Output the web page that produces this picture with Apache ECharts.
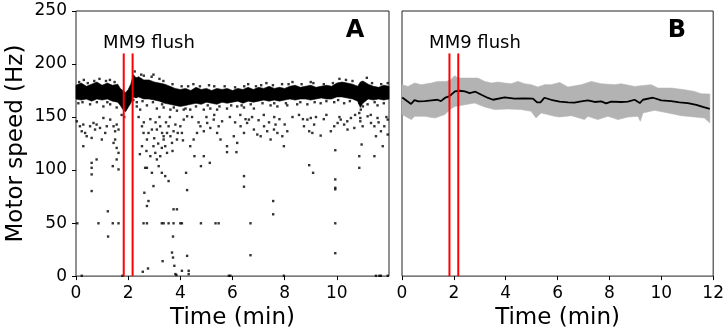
<!DOCTYPE html>
<html>
<head>
<meta charset="utf-8">
<script src="https://cdn.jsdelivr.net/npm/echarts@6/dist/echarts.min.js"></script>
<style>
html,body{margin:0;padding:0;background:#fff;}
#chart{width:727px;height:335px;}
</style>
</head>
<body>
<div id="chart"></div>
<script>
// ---------------- DATA ----------------
const xTicks = [0, 2, 4, 6, 8, 10, 12];
const yTicks = [0, 50, 100, 150, 200, 250];
const flushTimes = [1.83, 2.17];
const flushLineTop = 210;
const flushLabel = 'MM9 flush';
const panelLabels = ['A', 'B'];
const xTitle = 'Time (min)';
const yTitle = 'Motor speed (Hz)';

// Panel A: dense band of motor-speed samples (upper / lower envelope)
const bandTimeA  = [0,0.2,0.4,0.6,0.8,1.0,1.2,1.4,1.6,1.7,1.8,1.9,2.0,2.1,2.2,2.3,2.4,2.6,2.8,3.0,3.2,3.4,3.6,3.8,4.0,4.2,4.4,4.6,4.8,5.0,5.2,5.4,5.6,5.8,6.0,6.2,6.4,6.6,6.8,7.0,7.2,7.4,7.6,7.8,8.0,8.2,8.4,8.6,8.8,9.0,9.2,9.4,9.6,9.8,10.0,10.2,10.4,10.6,10.8,10.9,11.0,11.2,11.4,11.6,11.8,12.0];
const bandUpperA = [180,182,179,181,183,180,182,180,181,177,175,173,176,181,190,187,188,185,185,183,182,181,179,177,176,177,175,178,176,177,175,177,176,177,175,177,176,178,176,178,177,179,177,178,177,179,180,178,179,180,178,179,180,179,182,183,182,181,179,183,184,181,179,178,180,179];
const bandLowerA = [167,166,167,165,167,166,167,165,164,161,157,155,159,163,169,168,169,167,167,166,165,163,162,161,160,161,162,163,162,164,163,162,164,163,164,165,163,165,164,165,166,165,166,165,166,167,166,167,167,166,167,168,167,167,169,169,168,167,165,159,163,167,166,167,166,167];

// Panel A: individual samples away from the band
const scatterA = [
[0.03,146],[0.15,141.3],[0.28,142.9],[0.22,136.6],[0.35,135],[0.41,131.9],[0.54,141.3],[0.67,144.4],[0.73,138.2],[0.79,142.9],[0.92,139.7],[1.05,149.1],[1.12,135],[1.18,141.3],[0.60,130.3],[0.99,128.8],[1.31,147.6],[1.44,141.3],[1.50,136.6],[1.56,142.9],[1.63,138.2],[1.50,128.8],[1.44,125.6],[1.56,120.9],[1.63,116.2],[1.56,110],[1.41,103.7],[1.63,100.6],[0.28,122.5],[0.60,106.8],[0.60,102.1],[0.79,110],[0.60,95.9],[0.60,80.2],[0.86,49.8],[0.05,49.8],[1.22,61.1],[1.23,37.3],[1.41,49.8],[1.63,49.8],
[2.33,160],[2.46,157],[2.53,141.3],[2.59,135],[2.53,122.5],[2.72,128.8],[2.78,135],[2.91,138.2],[2.97,122.5],[3.04,116.2],[2.85,113.1],[3.10,110],[3.17,103.7],[2.91,97.4],[3.23,113.1],[3.29,120.9],[3.36,128.8],[3.42,122.5],[3.49,135],[3.55,141.3],[3.62,131.9],[3.68,125.6],[3.74,136.6],[3.81,142.9],[3.87,128.8],[4.0,141.3],[4.06,135],[4.13,147.6],[4.26,150.7],[3.10,138.2],[3.23,141.3],[3.36,131.9],[3.49,116.2],[3.29,97.4],[3.42,94.3],[3.55,89.6],[2.72,102.1],[2.65,102.1],[2.72,66.1],[2.78,70.8],[2.97,84.9],[2.62,78.6],[2.59,49.8],[2.72,49.8],[3.29,49.8],[3.36,49.8],[3.55,49.8],[3.74,49.8],[3.72,37.3],[3.74,63],[3.68,22.2],[3.72,17.5],[3.77,9.7],[3.81,1.9],[4.06,5],[4.32,1.9],[4.32,5],[3.32,14.1],[2.56,4.1],[2.76,7.2],[4.22,97.4],[4.26,81.1],[4.0,49.8],[4.06,49.8],[4.26,19.1],[3.87,63],[3.85,1],
[2.4,150],[2.6,145],[2.85,148],[3.0,130],[3.15,125],[3.3,135],[3.45,145],[3.6,150],[3.7,118],[3.9,135],[4.1,128],[2.45,115],[2.7,118],[3.05,145],[3.2,150],
[4.38,122.5],[4.51,128.8],[4.64,135],[4.77,141.3],[4.90,136.6],[5.03,144.4],[5.15,139.7],[5.28,147.6],[5.41,135],[5.47,141.3],[5.54,128.8],[5.79,122.5],[6.05,131.9],[6.18,125.6],[6.31,141.3],[6.44,135],[6.56,144.4],[6.63,147.6],[6.82,138.2],[6.95,133.5],[7.08,131.9],[7.21,141.3],[7.33,136.6],[7.46,128.8],[7.59,138.2],[7.65,142.9],[7.72,135],[7.91,131.9],[7.97,122.5],[8.10,136.6],
[4.79,103.7],[5.13,106.8],[4.90,113.1],[4.54,113.1],[5.47,49.8],[5.35,49.8],[4.79,49.8],[5.86,0.3],[6.44,94.3],[6.44,84.3],[6.69,49.8],[6.69,19.7],[7.56,70.8],[7.56,58.3],[6.15,116.9],[5.79,116.9],[7.97,0.3],
[8.74,141.3],[8.87,147.6],[8.94,136.6],[9.0,149.1],[9.06,135],[9.13,142.9],[9.38,132.5],[9.77,136.6],[9.90,141.3],[10.03,144.4],[10.15,147.6],[10.28,142.9],[10.41,138.2],[10.54,149.1],[10.67,139.7],
[8.94,104.6],[9.09,97.4],[9.94,118.7],[9.94,91.2],[9.94,83.3],[9.94,81.8],[9.94,49.8],[9.94,21.6],
[10.86,153.8],[10.90,149.1],[10.92,157],[10.86,163.2],[10.90,146],[10.99,141.3],[10.95,124.1],[10.86,102.1],[10.86,113.1],[11.44,113.1],[11.18,150.7],[11.31,144.4],[11.44,141.3],[11.56,149.1],[11.69,136.6],[11.82,141.3],[11.95,133.5],[11.76,122.5],[11.50,131.9],[11.95,147.6],
[11.50,0.3],[11.63,0.3],[11.69,0.3],[11.95,0.3],[0.22,0.3],[1.78,0.3],[5.92,0.3],
[4.45,150],[4.7,145],[5.0,150],[5.3,152],[5.6,146],[5.9,150],[6.1,145],[6.3,152],[6.5,148],[6.75,150],[7.0,147],[7.2,152],[7.4,145],[7.6,150],[7.8,148],[8.0,143],[8.3,150],[8.55,152],[8.7,148],[9.2,150],[9.5,148],[9.6,152],[10.1,150],[10.4,146],[10.7,152],[11.3,152],[11.6,145],[11.9,150]
];

// Panel A: samples at the fuzzy edges of the band
const edgeA = [
[0.09,163],[0.54,162],[1.05,160],[1.31,162],[1.56,159],[1.75,152],[1.85,150],[2.33,164],[2.72,161],[3.10,158],[3.36,159],[3.62,157],[3.87,156],[4.13,157],[4.38,157],[4.90,157],[5.15,158],[5.41,157],[5.79,158],[6.18,160],[6.44,159],[6.82,158],[7.46,161],[7.72,160],[8.10,161],[8.48,162],[8.87,162],[9.38,163],[9.90,164],[10.28,163],[11.18,162],[11.56,161],
[0.3,185],[0.9,186],[1.3,185],[2.6,189],[3.2,186],[4.5,181],[5.1,180],[6.6,181],[7.3,182],[8.3,183],[9.0,183],[10.1,186],[11.15,187],[2.97,190],[2.25,193],
[0.12,183],[0.45,182],[0.7,184],[1.15,184],[1.48,183],[2.5,190],[2.9,188],[3.35,184],[3.7,181],[4.05,179],[4.3,179],[4.75,179],[5.3,179],[5.7,179],[6.1,178],[6.45,179],[6.9,179],[7.1,180],[7.55,180],[7.9,181],[8.15,181],[8.65,181],[9.1,182],[9.5,181],[9.85,182],[10.35,185],[10.6,184],[11.35,182],[11.7,181],[11.95,182],
[0.25,164],[0.8,164],[1.2,164],[2.2,166],[2.55,165],[2.95,164],[3.3,162],[3.75,159],[4.2,158],[4.6,160],[5.05,161],[5.5,160],[5.95,161],[6.35,161],[6.7,162],[7.15,163],[7.6,163],[8.05,163],[8.6,164],[9.15,164],[9.6,165],[10.05,166],[10.5,165],[11.0,160],[11.45,164],[11.8,163]
];

// Panel B: mean motor speed with spread band
const meanB = [[0.01,168.5],[0.35,162.3],[0.48,166],[0.63,164.8],[0.88,165],[1.14,165.7],[1.37,166.3],[1.50,165],[1.65,168],[1.81,169.5],[1.91,171.3],[2.04,174.2],[2.23,174.8],[2.42,174.2],[2.61,172.6],[2.83,173.9],[3.06,171],[3.32,168],[3.51,166.3],[3.96,168.5],[4.34,167.3],[4.73,167.6],[5.05,167.3],[5.21,163.8],[5.34,163.8],[5.49,168.2],[5.75,166.3],[6.08,164.5],[6.40,163.8],[6.65,163.5],[6.91,164.8],[7.17,165.7],[7.43,164.2],[7.68,164.8],[7.87,162.9],[8.07,164.5],[8.45,164.2],[8.71,164.5],[8.97,166.3],[9.17,163.2],[9.29,166.3],[9.68,168.2],[10.0,165.7],[10.38,165],[10.70,163.8],[11.02,163.2],[11.35,161.4],[11.6,159.5],[11.87,157.6]];
const upperB = [[0,180.5],[0.23,178.9],[0.49,182],[0.74,180.5],[1.13,182],[1.38,183.6],[1.71,183.6],[1.87,185],[2.03,189],[2.16,186.7],[2.42,186.7],[2.93,186.7],[3.19,183.6],[3.45,182],[3.7,183],[3.96,182],[4.21,181.4],[4.47,183.6],[4.73,181.4],[4.98,180.5],[5.24,178.3],[5.5,180.5],[5.75,180.5],[6.08,182.6],[6.40,178.3],[6.91,180.5],[7.30,183.6],[7.68,181.4],[8.2,180.5],[8.45,181.4],[8.97,178.9],[9.61,180.5],[9.87,177.3],[10.38,177.3],[10.89,175.8],[11.28,174.2],[11.53,172],[11.87,171.7]];
const lowerB = [[0,152.3],[0.36,147.6],[0.49,150.7],[0.88,150.7],[1.27,149.1],[1.65,152.3],[1.87,157.6],[2.04,160],[2.42,161.7],[2.8,163.2],[3.19,159.5],[3.57,157],[4.08,157.6],[4.6,157],[4.98,155.4],[5.17,149.1],[5.36,153.9],[5.62,152.3],[5.89,150.7],[6.08,150.1],[6.53,151.3],[7.04,147.6],[7.17,150.7],[7.55,147.6],[7.94,150.7],[8.33,147.6],[8.71,150],[9.10,150.7],[9.19,146],[9.29,153.9],[9.74,156.3],[10.26,153.9],[10.77,151.3],[11.28,150.1],[11.66,149.1],[11.87,144.5]];

// ---------------- CHART ----------------
const FONT = 'DejaVu Sans';
const chart = echarts.init(document.getElementById('chart'), null, {renderer: 'canvas'});

function bandSeries(idx, upper, lower, color) {
  return {
    type: 'custom', xAxisIndex: idx, yAxisIndex: idx, silent: true, z: 1,
    data: [[upper[0][0], upper[0][1]]],
    renderItem: function (params, api) {
      const pts = upper.map(p => api.coord(p))
        .concat(lower.slice().reverse().map(p => api.coord(p)));
      return {type: 'polygon', shape: {points: pts}, style: {fill: color, stroke: color, lineWidth: 0.6}};
    }
  };
}
function flushSeries(idx) {
  return flushTimes.map(t => ({
    type: 'line', xAxisIndex: idx, yAxisIndex: idx, silent: true, z: 10,
    data: [[t, 0], [t, flushLineTop]], symbol: 'none',
    lineStyle: {color: '#ff0000', width: 2}
  }));
}
function xAxis(idx, showMax) {
  return {
    gridIndex: idx, type: 'value', min: xTicks[0], max: xTicks[xTicks.length - 1], interval: xTicks[1] - xTicks[0],
    axisLine: {show: false}, splitLine: {show: false},
    axisTick: {show: true, length: 4, lineStyle: {color: '#000', width: 1}},
    axisLabel: {showMaxLabel: showMax, fontSize: 17, color: '#000', margin: 9, fontFamily: FONT},
    name: xTitle, nameLocation: 'middle', nameGap: 30,
    nameTextStyle: {fontSize: 23, color: '#000', fontFamily: FONT}
  };
}

const bandPtsUpperA = bandTimeA.map((t, i) => [t, bandUpperA[i]]);
const bandPtsLowerA = bandTimeA.map((t, i) => [t, bandLowerA[i]]);

const option = {
  animation: false,
  backgroundColor: '#fff',
  grid: [
    {left: 76, top: 11, width: 313, height: 266, show: true, borderColor: '#222', borderWidth: 1, backgroundColor: 'transparent'},
    {left: 402, top: 11, width: 312, height: 266, show: true, borderColor: '#222', borderWidth: 1, backgroundColor: 'transparent'}
  ],
  xAxis: [xAxis(0, false), xAxis(1, true)],
  yAxis: [
    {gridIndex: 0, type: 'value', min: yTicks[0], max: yTicks[yTicks.length - 1], interval: yTicks[1] - yTicks[0],
     axisLine: {show: false}, splitLine: {show: false},
     axisTick: {show: true, length: 4, lineStyle: {color: '#000', width: 1}},
     axisLabel: {fontSize: 17, color: '#000', margin: 9, fontFamily: FONT},
     name: yTitle, nameLocation: 'middle', nameGap: 48, nameRotate: 90,
     nameTextStyle: {fontSize: 23, color: '#000', fontFamily: FONT}},
    {gridIndex: 1, type: 'value', min: yTicks[0], max: yTicks[yTicks.length - 1], interval: yTicks[1] - yTicks[0],
     axisLine: {show: false}, splitLine: {show: false}, axisTick: {show: false}, axisLabel: {show: false}}
  ],
  graphic: [
    {type: 'text', x: 149, y: 43, style: {text: flushLabel, font: '18px "DejaVu Sans"', fill: '#000', align: 'center', verticalAlign: 'middle'}},
    {type: 'text', x: 475, y: 43, style: {text: flushLabel, font: '18px "DejaVu Sans"', fill: '#000', align: 'center', verticalAlign: 'middle'}},
    {type: 'text', x: 355, y: 31, style: {text: panelLabels[0], font: 'bold 24px "DejaVu Sans"', fill: '#000', align: 'center', verticalAlign: 'middle'}},
    {type: 'text', x: 677, y: 31, style: {text: panelLabels[1], font: 'bold 24px "DejaVu Sans"', fill: '#000', align: 'center', verticalAlign: 'middle'}}
  ],
  series: [
    bandSeries(0, bandPtsUpperA, bandPtsLowerA, '#000'),
    {type: 'scatter', xAxisIndex: 0, yAxisIndex: 0, data: scatterA, symbol: 'rect', symbolSize: 2.4, itemStyle: {color: '#000'}, silent: true, z: 3},
    {type: 'scatter', xAxisIndex: 0, yAxisIndex: 0, data: edgeA, symbol: 'rect', symbolSize: 2.4, itemStyle: {color: '#000'}, silent: true, z: 3},
    ...flushSeries(0),
    bandSeries(1, upperB, lowerB, '#b3b3b3'),
    {type: 'line', xAxisIndex: 1, yAxisIndex: 1, data: meanB, symbol: 'none', silent: true, z: 5,
     lineStyle: {color: '#000', width: 1.8}},
    ...flushSeries(1)
  ]
};
chart.setOption(option);
</script>
</body>
</html>
